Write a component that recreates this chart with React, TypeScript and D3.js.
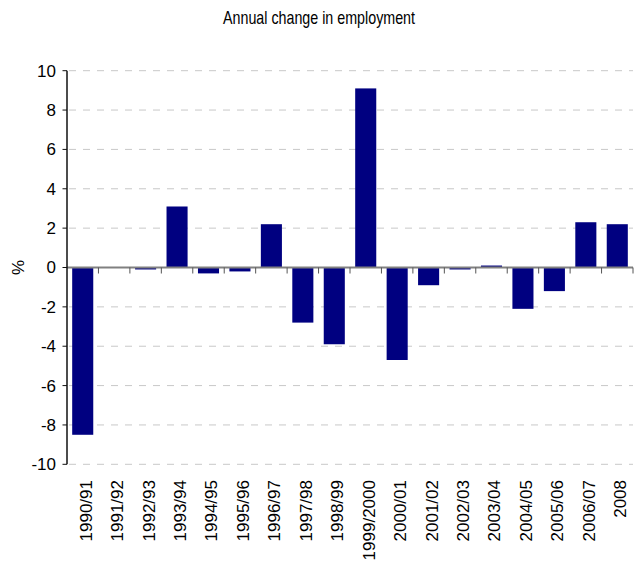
import React from "react";
import * as d3 from "d3";

const categories = [
  "1990/91", "1991/92", "1992/93", "1993/94", "1994/95", "1995/96",
  "1996/97", "1997/98", "1998/99", "1999/2000", "2000/01", "2001/02",
  "2002/03", "2003/04", "2004/05", "2005/06", "2006/07", "2008",
];
const values = [
  -8.5, 0, -0.1, 3.1, -0.3, -0.2, 2.2, -2.8, -3.9, 9.1, -4.7, -0.9,
  -0.1, 0.1, -2.1, -1.2, 2.3, 2.2,
];
const yTicks = [10, 8, 6, 4, 2, 0, -2, -4, -6, -8, -10];
const title = "Annual change in employment";
const yLabel = "%";

const W = 639;
const H = 566;
const left = 67;
const right = 633;
const top = 70.7;
const bottom = 464.3;
const FONT = "'Liberation Sans', Arial, sans-serif";

export default function App() {
  const x = d3
    .scaleBand<string>()
    .domain(categories)
    .range([left, right])
    .paddingInner(0.33)
    .paddingOuter(0.165);
  const y = d3.scaleLinear().domain([-10, 10]).range([bottom, top]);
  const step = x.step();
  const y0 = y(0);

  return (
    <div style={{ position: "absolute", left: 0, top: 0 }}>
      <svg width={W} height={H} style={{ display: "block", background: "#fff" }} fontFamily={FONT}>
        <text
          x={319}
          y={24}
          textAnchor="middle"
          fontSize={19}
          textLength={192}
          lengthAdjust="spacingAndGlyphs"
          fill="#000"
        >
          {title}
        </text>

        {/* gridlines */}
        {yTicks.map((t) =>
          t === 0 ? null : (
            <line
              key={"g" + t}
              x1={left + 2}
              x2={right}
              y1={y(t)}
              y2={y(t)}
              stroke="#c8c8c8"
              strokeWidth={1}
              strokeDasharray="7,7"
            />
          )
        )}

        {/* bars */}
        {categories.map((c, i) => {
          const v = values[i];
          const yy = Math.min(y(v), y0);
          const h = Math.abs(y(v) - y0);
          return (
            <rect key={c} x={x(c)} y={yy} width={x.bandwidth()} height={h} fill="#000080" />
          );
        })}

        {/* zero axis */}
        <line x1={left} x2={right} y1={y0} y2={y0} stroke="#808080" strokeWidth={2} />
        {categories.map((c, i) => {
          const xx = left + (i + 1) * step;
          return (
            <line key={"t" + c} x1={xx} x2={xx} y1={y0} y2={y0 + 6} stroke="#555" strokeWidth={1} />
          );
        })}

        {/* y axis */}
        <line x1={left} x2={left} y1={top} y2={bottom} stroke="#111" strokeWidth={1.5} />
        {yTicks.map((t) => (
          <g key={"y" + t}>
            <line x1={left - 4.5} x2={left} y1={y(t)} y2={y(t)} stroke="#111" strokeWidth={1} />
            <text x={56} y={y(t)} dy="0.35em" textAnchor="end" fontSize={17} fill="#000">
              {t}
            </text>
          </g>
        ))}

        <text
          transform={`translate(18, ${y0}) rotate(-90)`}
          textAnchor="middle"
          dy="0.35em"
          fontSize={17}
          fill="#000"
        >
          {yLabel}
        </text>

        {/* x labels */}
        {categories.map((c) => {
          const cx = (x(c) as number) + x.bandwidth() / 2 + 3;
          return (
            <text
              key={"l" + c}
              transform={`translate(${cx}, 480) rotate(-90)`}
              textAnchor="end"
              dy="0.35em"
              fontSize={17}
              fill="#000"
            >
              {c}
            </text>
          );
        })}
      </svg>
    </div>
  );
}
